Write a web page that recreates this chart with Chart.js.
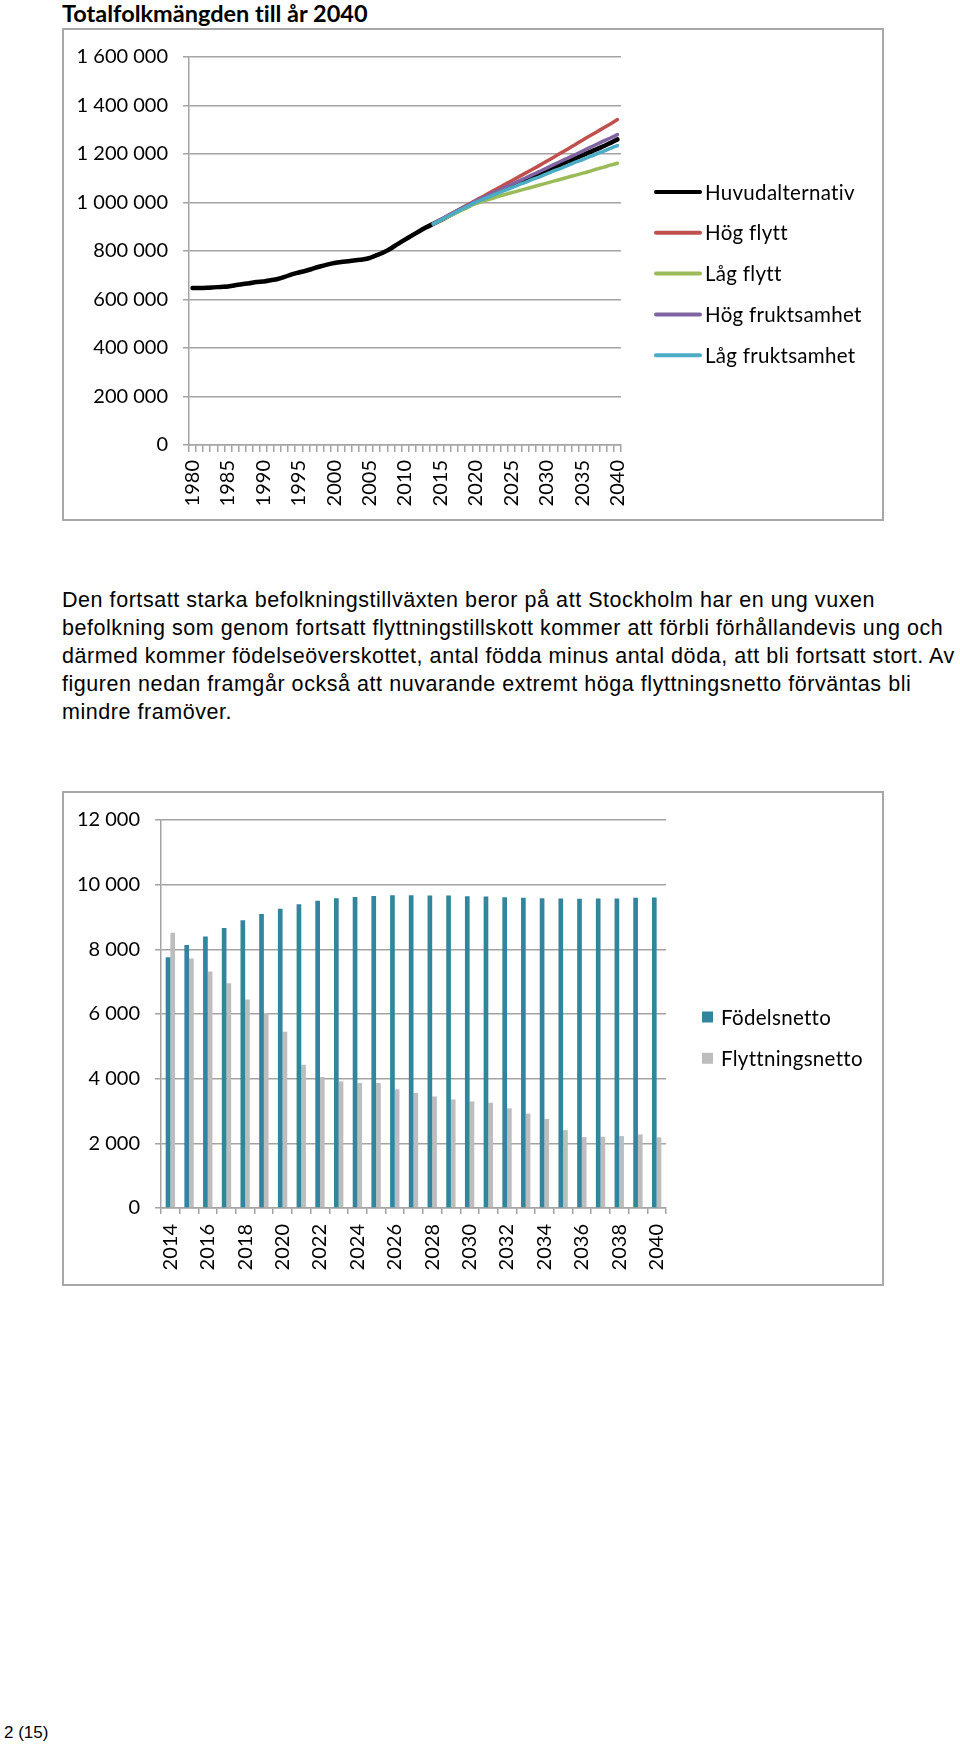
<!DOCTYPE html>
<html>
<head>
<meta charset="utf-8">
<script src="https://cdn.jsdelivr.net/npm/chart.js@4.4.1/dist/chart.umd.min.js"></script>
<style>
  html,body{margin:0;padding:0;background:#fff;}
  body{width:960px;height:1745px;position:relative;overflow:hidden;}
  .box{position:absolute;border:2px solid #a8a8a8;box-sizing:border-box;}
  canvas{position:absolute;}
  #title{position:absolute;left:62px;top:-1px;font:bold 23.5px Lato, sans-serif;font-variant-ligatures:none;line-height:28px;color:#000;white-space:nowrap;}
  #para{position:absolute;left:62px;top:587px;font:21.5px "Liberation Sans", Arial, sans-serif;letter-spacing:0.55px;line-height:27.9px;color:#000;white-space:nowrap;}
  #footer{position:absolute;left:4px;top:1722px;font:17px "Liberation Sans", Arial, sans-serif;line-height:22px;color:#000;}
</style>
</head>
<body>
<div id="title">Totalfolkmängden till år 2040</div>
<div class="box" style="left:62px;top:28px;width:822px;height:493px;"></div>
<canvas id="c1" width="818" height="488" style="left:64px;top:30px;width:818px;height:488px;"></canvas>

<div id="para">Den fortsatt starka befolkningstillväxten beror på att Stockholm har en ung vuxen<br>befolkning som genom fortsatt flyttningstillskott kommer att förbli förhållandevis ung och<br>därmed kommer födelseöverskottet, antal födda minus antal döda, att bli fortsatt stort. Av<br>figuren nedan framgår också att nuvarande extremt höga flyttningsnetto förväntas bli<br>mindre framöver.</div>

<div class="box" style="left:62px;top:791px;width:822px;height:495px;"></div>
<canvas id="c2" width="818" height="491" style="left:64px;top:793px;width:818px;height:491px;"></canvas>

<div id="footer">2 (15)</div>

<script>
// ---------- Chart 1 data ----------
const years = [1980,1981,1982,1983,1984,1985,1986,1987,1988,1989,1990,1991,1992,1993,1994,1995,1996,1997,1998,1999,2000,2001,2002,2003,2004,2005,2006,2007,2008,2009,2010,2011,2012,2013,2014,2015,2016,2017,2018,2019,2020,2021,2022,2023,2024,2025,2026,2027,2028,2029,2030,2031,2032,2033,2034,2035,2036,2037,2038,2039,2040];
const yearLabelStep = 5;

const huvudalternativ = [647214,647115,647966,650000,652000,653455,659030,663217,666810,672187,674452,679364,684576,692954,703627,711119,718462,727339,736113,743703,750348,754948,758148,761721,765044,771038,782885,795163,810120,829417,847073,864324,881235,897700,911989,
  927000,942000,958000,973000,988000,1003000,1016000,1029000,1042000,1055000,1067000,1080000,1092000,1105000,1117000,1130000,1143000,1156000,1168000,1181000,1194000,1207000,1219000,1232000,1245000,1260000];
// projections 2014..2040
const projStartYear = 2014;
const hogFlytt = [911989,928000,945000,961000,977000,993000,1009000,1025000,1041000,1057000,1073000,1089000,1105000,1121000,1137000,1153000,1170000,1187000,1204000,1221000,1238000,1256000,1273000,1290000,1307000,1324000,1342000];
const lagFlytt = [911989,926000,940000,954000,968000,982000,995000,1005000,1014000,1023000,1032000,1040000,1048000,1056000,1064000,1072000,1080000,1088000,1096000,1104000,1112000,1120000,1128000,1137000,1145000,1154000,1162000];
const hogFruktsamhet = [911989,928000,944000,960000,975000,991000,1006000,1020000,1034000,1047000,1061000,1074000,1088000,1101000,1115000,1128000,1142000,1156000,1170000,1183000,1197000,1211000,1225000,1239000,1253000,1266000,1280000];
const lagFruktsamhet = [911989,927000,942000,957000,972000,986000,1001000,1013000,1025000,1037000,1049000,1060000,1072000,1083000,1095000,1106000,1118000,1130000,1141000,1153000,1165000,1176000,1188000,1200000,1211000,1223000,1235000];
const seriesNames1 = ['Huvudalternativ','Hög flytt','Låg flytt','Hög fruktsamhet','Låg fruktsamhet'];
const seriesColors1 = ['#000000','#C0504D','#9BBB59','#8064A2','#4BACC6'];
const yTicks1 = {min:0, max:1600000, step:200000};

// ---------- Chart 2 data ----------
const years2 = [2014,2015,2016,2017,2018,2019,2020,2021,2022,2023,2024,2025,2026,2027,2028,2029,2030,2031,2032,2033,2034,2035,2036,2037,2038,2039,2040];
const fodelsnetto = [7755,8133,8398,8663,8898,9092,9255,9398,9500,9582,9622,9653,9673,9673,9663,9663,9643,9633,9612,9592,9582,9571,9561,9571,9571,9592,9602];
const flyttningsnetto = [8510,7714,7316,6949,6449,6031,5449,4429,4051,3918,3867,3867,3673,3561,3449,3357,3296,3255,3082,2918,2755,2408,2194,2204,2224,2276,2184];
const seriesNames2 = ['Födelsnetto','Flyttningsnetto'];
const seriesColors2 = ['#31859C','#BDBDBD'];
const yTicks2 = {min:0, max:12000, step:2000};

// ---------- helpers ----------
function fmt(v){ return String(v).replace(/\B(?=(\d{3})+(?!\d))/g, ' '); }
function pad(arr, startYear, allYears){
  const n = allYears.indexOf(startYear);
  return new Array(n).fill(null).concat(arr);
}
const GRID = '#a3a3a3';
const FONT = 'Lato';

const lineLegend = {
  id: 'lineLegend',
  afterDraw(chart, args, o){
    const ctx = chart.ctx; ctx.save();
    if ('letterSpacing' in ctx) ctx.letterSpacing = '0.3px';
    chart.data.datasets.forEach((ds,i)=>{
      const y = o.y + i*o.spacing;
      ctx.strokeStyle = ds.borderColor; ctx.lineWidth = o.lineWidth; ctx.lineCap = 'round';
      ctx.beginPath(); ctx.moveTo(o.x, y); ctx.lineTo(o.x+o.len, y); ctx.stroke();
      ctx.fillStyle = '#000'; ctx.font = o.font; ctx.textBaseline = 'middle'; ctx.textAlign='left';
      ctx.fillText(ds.label, o.x+o.len+o.gap, y+1);
    });
    ctx.restore();
  }
};
const boxLegend = {
  id: 'boxLegend',
  afterDraw(chart, args, o){
    const ctx = chart.ctx; ctx.save();
    if ('letterSpacing' in ctx) ctx.letterSpacing = '0.3px';
    chart.data.datasets.forEach((ds,i)=>{
      const y = o.y + i*o.spacing;
      ctx.fillStyle = ds.backgroundColor;
      ctx.fillRect(o.x, y - o.size/2, o.size, o.size);
      ctx.fillStyle = '#000'; ctx.font = o.font; ctx.textBaseline = 'middle'; ctx.textAlign='left';
      ctx.fillText(ds.label, o.x+o.size+o.gap, y+1);
    });
    ctx.restore();
  }
};

function draw(){
  Chart.defaults.font.family = FONT;
  Chart.defaults.color = '#000';

  const proj = [hogFlytt, lagFlytt, hogFruktsamhet, lagFruktsamhet];
  const allSeries = [huvudalternativ].concat(proj.map(a=>pad(a, projStartYear, years)));
  const drawOrder = [4,3,2,1,0];
  new Chart(document.getElementById('c1'), {
    type: 'line',
    data: {
      labels: years,
      datasets: allSeries.map((d,i)=>({
        label: seriesNames1[i], data: d,
        borderColor: seriesColors1[i], backgroundColor: seriesColors1[i],
        borderWidth: i===0 ? 4.5 : 3.5, pointRadius: 0, tension: 0.2,
        borderCapStyle: 'round', borderJoinStyle: 'round', fill: false,
        order: drawOrder[i]
      }))
    },
    options: {
      responsive: false, animation: false, devicePixelRatio: 1,
      layout: {padding: {left: 0, top: 22, right: 261, bottom: 0}},
      plugins: {
        legend: {display: false}, tooltip: {enabled: false},
        lineLegend: {x: 592, y: 162, spacing: 40.8, len: 44, gap: 5, lineWidth: 4, font: '20.5px '+FONT}
      },
      scales: {
        x: {
          offset: true,
          grid: {offset: true, drawOnChartArea: false, drawTicks: true, tickLength: 7, color: GRID, lineWidth: 1.5},
          border: {display: true, color: GRID, width: 1.5},
          ticks: {autoSkip: false, maxRotation: 90, minRotation: 90, padding: 8, font: {size: 20},
            callback: function(v, i){ const y = years[i]; return (y - years[0]) % yearLabelStep === 0 ? String(y) : ''; }},
          afterFit: s => { s.height = 73; }
        },
        y: {
          min: yTicks1.min, max: yTicks1.max,
          grid: {color: GRID, lineWidth: 1.5, drawTicks: true, tickLength: 6},
          border: {display: true, color: GRID, width: 1.5},
          ticks: {stepSize: yTicks1.step, padding: 15, font: {size: 20}, callback: v => fmt(v)},
          afterFit: s => { s.width = 125; }
        }
      }
    },
    plugins: [lineLegend]
  });

  new Chart(document.getElementById('c2'), {
    type: 'bar',
    data: {
      labels: years2,
      datasets: [fodelsnetto, flyttningsnetto].map((d,i)=>({
        label: seriesNames2[i], data: d, backgroundColor: seriesColors2[i],
        borderWidth: 0, categoryPercentage: 0.5, barPercentage: 1.0
      }))
    },
    options: {
      responsive: false, animation: false, devicePixelRatio: 1,
      layout: {padding: {left: 0, top: 24, right: 216, bottom: 0}},
      plugins: {
        legend: {display: false}, tooltip: {enabled: false},
        boxLegend: {x: 638, y: 224, spacing: 41.3, size: 11, gap: 8, font: '20.5px '+FONT}
      },
      scales: {
        x: {
          grid: {offset: true, drawOnChartArea: false, drawTicks: true, tickLength: 6, color: GRID, lineWidth: 1.5},
          border: {display: true, color: GRID, width: 1.5},
          ticks: {autoSkip: false, maxRotation: 90, minRotation: 90, padding: 10, font: {size: 20},
            callback: function(v, i){ return i % 2 === 0 ? String(years2[i]) : ''; }},
          afterFit: s => { s.height = 76; }
        },
        y: {
          min: yTicks2.min, max: yTicks2.max,
          grid: {color: GRID, lineWidth: 1.5, drawTicks: true, tickLength: 6},
          border: {display: true, color: GRID, width: 1.5},
          ticks: {stepSize: yTicks2.step, padding: 15, font: {size: 20}, callback: v => fmt(v)},
          afterFit: s => { s.width = 97; }
        }
      }
    },
    plugins: [boxLegend]
  });
}

(document.fonts && document.fonts.load ? Promise.all([document.fonts.load('20px Lato'), document.fonts.load('bold 20px Lato')]) : Promise.resolve())
  .then(draw, draw);
</script>
</body>
</html>
